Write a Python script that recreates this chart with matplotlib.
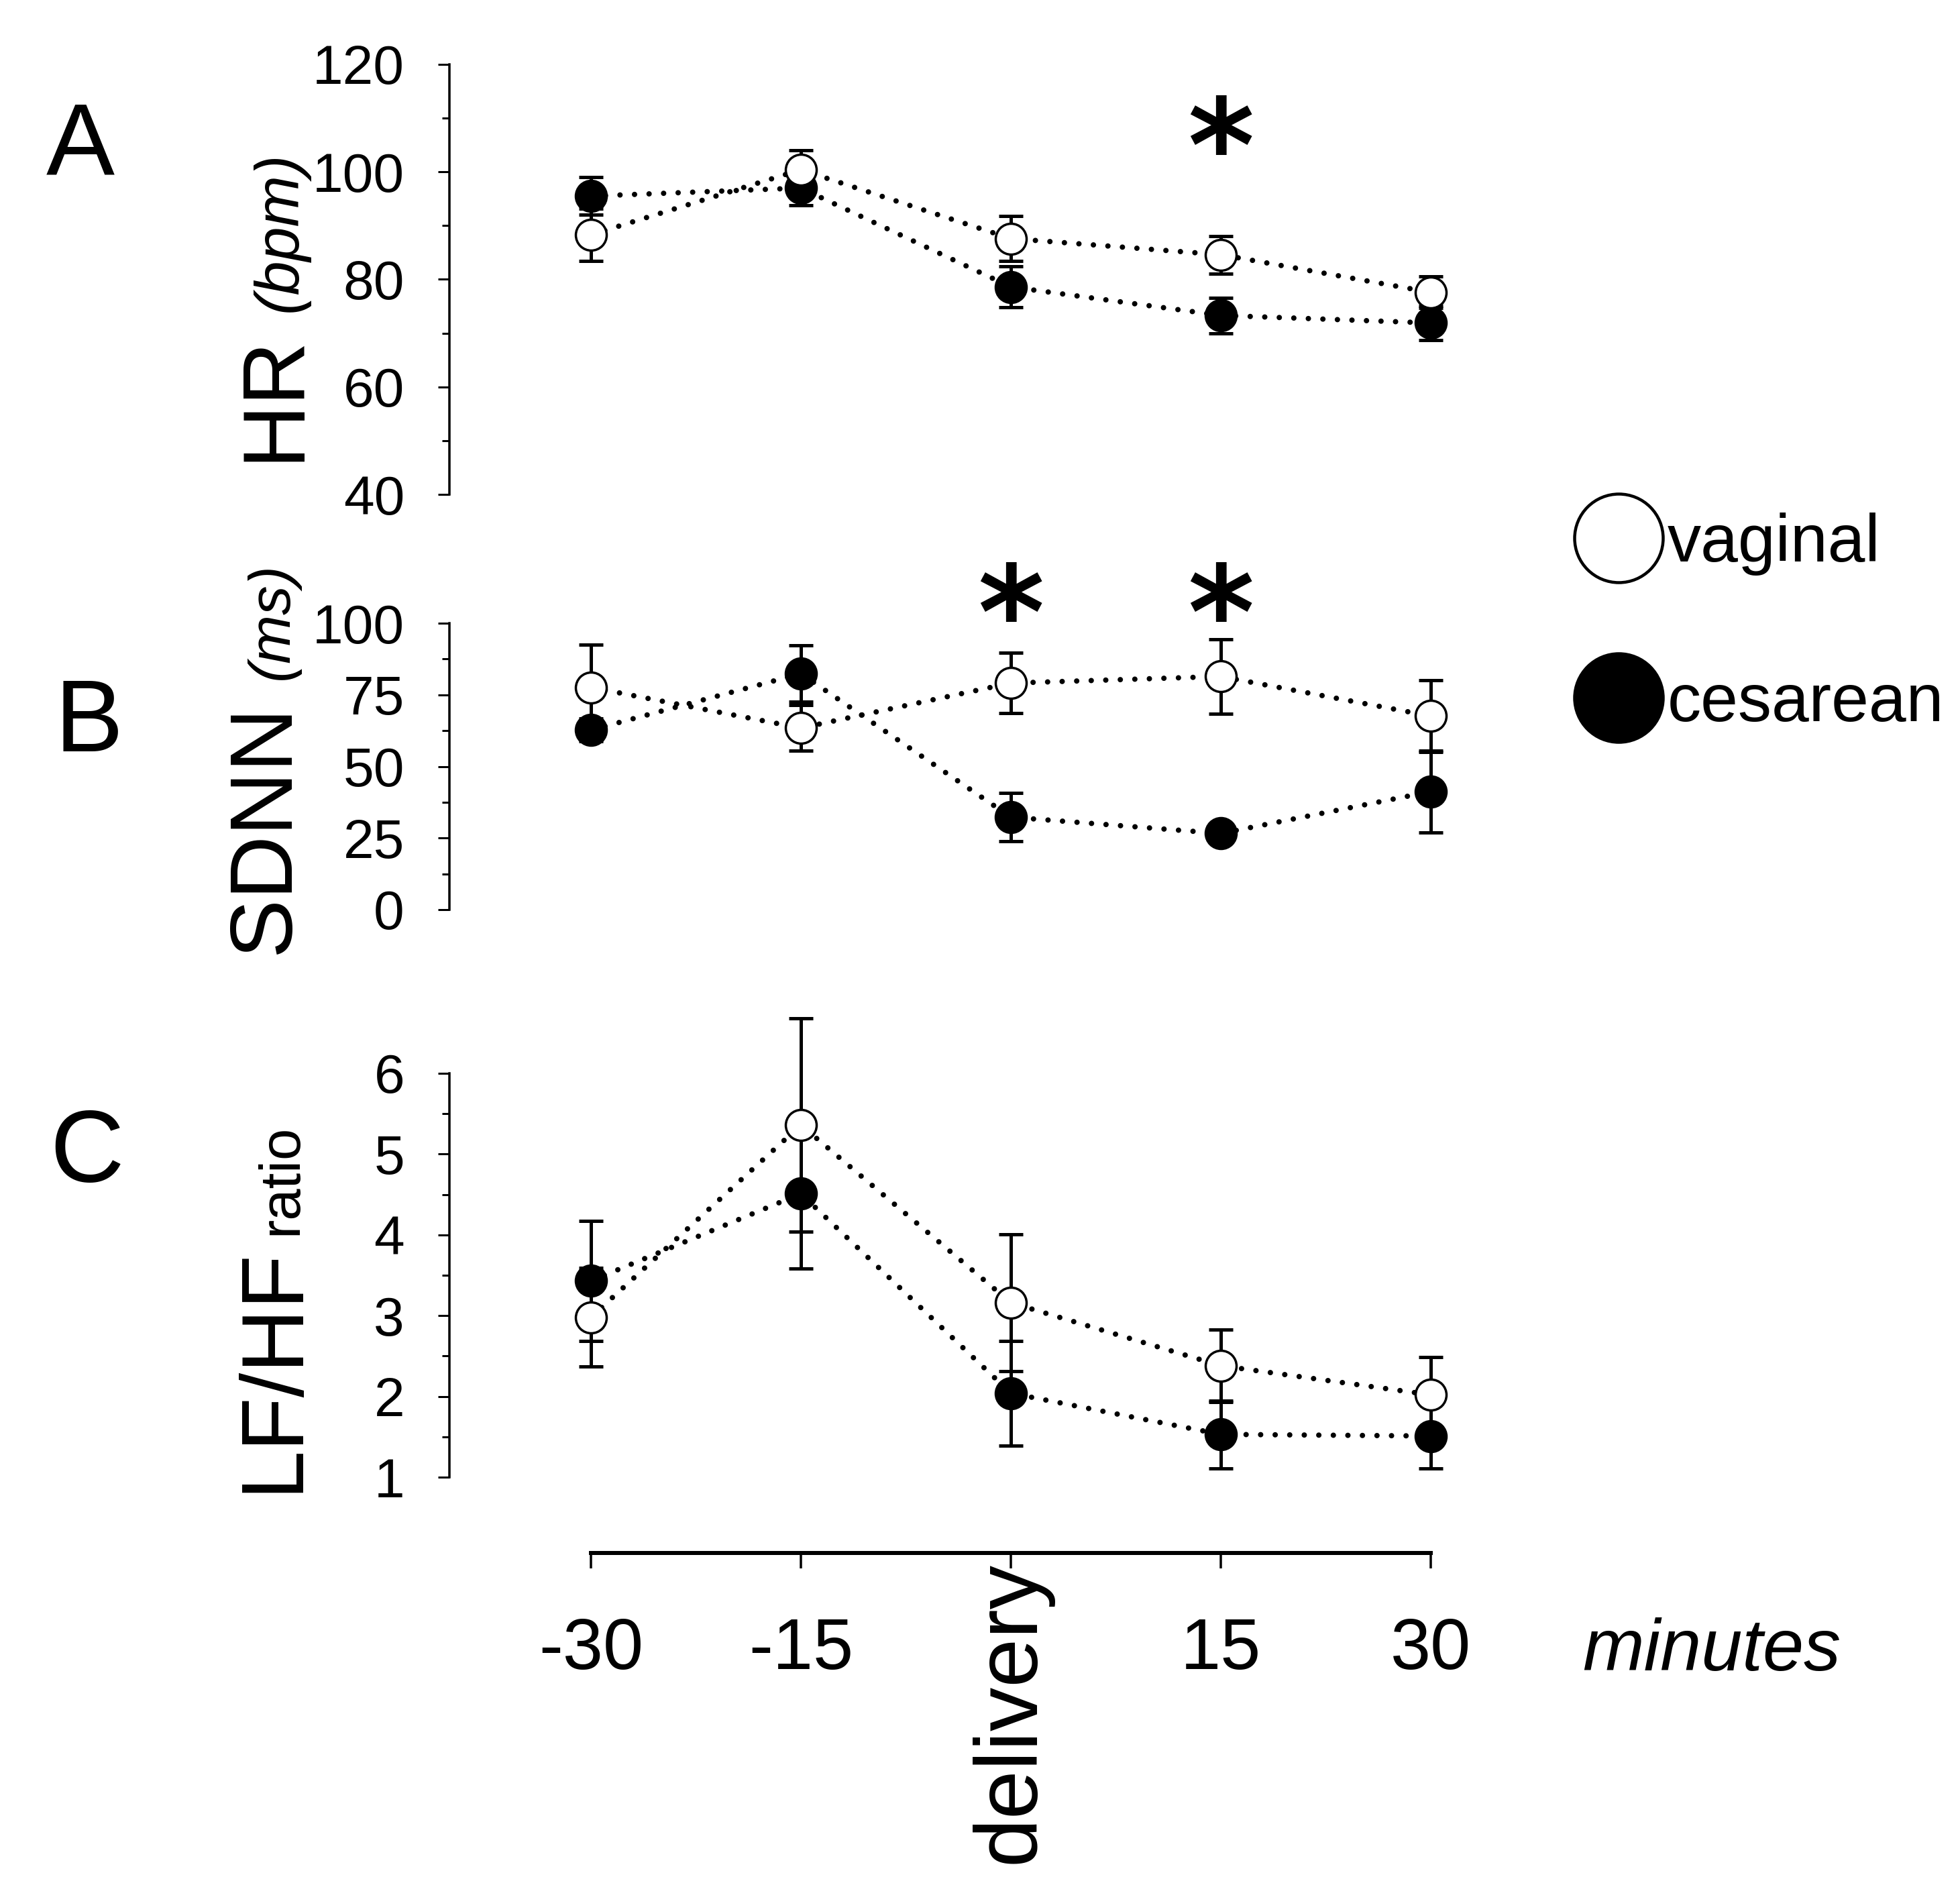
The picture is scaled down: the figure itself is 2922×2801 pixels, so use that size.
import matplotlib
matplotlib.use("Agg")
import matplotlib.pyplot as plt
from matplotlib import font_manager
from matplotlib.lines import Line2D
from matplotlib.ticker import MultipleLocator
from matplotlib.transforms import ScaledTranslation

W, H = 2922, 2801
DPI = 72

# time points (minutes around delivery)
minutes = [-30, -15, 0, 15, 30]
tick_labels = ['-30', '-15', 'delivery', '15', '30']

# panel A: heart rate (bpm), mean and error
hr_vaginal = [88.3, 100.4, 87.6, 84.6, 77.6]
hr_vaginal_err = [4.9, 3.6, 4.2, 3.5, 2.9]
hr_cesarean = [95.5, 97.0, 78.6, 73.3, 71.9]
hr_cesarean_err = [3.5, 3.2, 3.8, 3.3, 3.2]

# panel B: SDNN (ms)
sdnn_vaginal = [77.6, 63.4, 79.1, 81.4, 67.6]
sdnn_vaginal_err = [15.0, 8.0, 10.5, 13.0, 12.6]
sdnn_cesarean = [62.7, 82.4, 32.3, 26.6, 41.2]
sdnn_cesarean_err = [4.0, 9.8, 8.4, 2.5, 14.3]

# panel C: LF/HF ratio
lfhf_vaginal = [2.98, 5.36, 3.16, 2.38, 2.02]
lfhf_vaginal_err = [0.61, 1.32, 0.85, 0.45, 0.47]
lfhf_cesarean = [3.43, 4.51, 2.04, 1.53, 1.51]
lfhf_cesarean_err = [0.74, 0.93, 0.65, 0.42, 0.40]

# significant differences
stars_hr = [15]
stars_sdnn = [0, 15]


def font_ok(name):
    try:
        font_manager.findfont(font_manager.FontProperties(family=name),
                              fallback_to_default=False)
        return True
    except ValueError:
        return False


NARROW = 'Liberation Sans Narrow' if font_ok('Liberation Sans Narrow') else 'Liberation Sans'
NS = 1.0 if NARROW == 'Liberation Sans Narrow' else 0.85

plt.rcParams['font.family'] = ['Liberation Sans', 'DejaVu Sans']

fig = plt.figure(figsize=(W / DPI, H / DPI), dpi=DPI)

X0, X1 = 670, 2250
XLIM = (-40.11, 35.61)


def fx(px):
    return px / W


def fy(py):
    return 1 - py / H


def panel(top, bottom, ylim, major, minor):
    ax = fig.add_axes([fx(X0), fy(bottom), (X1 - X0) / W, (bottom - top) / H])
    ax.set_xlim(XLIM)
    ax.set_ylim(ylim)
    for s in ['top', 'right', 'bottom']:
        ax.spines[s].set_visible(False)
    ax.spines['left'].set_linewidth(3.5)
    ax.xaxis.set_visible(False)
    ax.yaxis.set_major_locator(MultipleLocator(major))
    ax.yaxis.set_minor_locator(MultipleLocator(minor))
    ax.tick_params(axis='y', which='major', length=17, width=3, pad=50, labelsize=82)
    ax.tick_params(axis='y', which='minor', length=11, width=3)
    ax.patch.set_visible(False)
    return ax


def series(ax, y, err, face, z):
    eb = ax.errorbar(minutes, y, yerr=err, fmt='none', ecolor='black', elinewidth=5,
                     capsize=18, capthick=5, zorder=z)
    for art in eb.lines[1] + eb.lines[2]:
        art.set_clip_on(False)
    ax.plot(minutes, y, color='black', lw=8, linestyle=(0, (0.01, 2.7)),
            dash_capstyle='round', zorder=z + 0.1, clip_on=False)
    ax.plot(minutes, y, linestyle='none', marker='o', ms=46, mfc=face,
            mec='black', mew=3.5, zorder=z + 0.2, clip_on=False)


axA = panel(96, 737, (40, 120), 20, 10)
series(axA, hr_cesarean, hr_cesarean_err, 'black', 2)
series(axA, hr_vaginal, hr_vaginal_err, 'white', 3)

axB = panel(929, 1356, (0, 100), 25, 12.5)
series(axB, sdnn_cesarean, sdnn_cesarean_err, 'black', 2)
series(axB, sdnn_vaginal, sdnn_vaginal_err, 'white', 3)

axC = panel(1600, 2202, (1, 6), 1, 0.5)
series(axC, lfhf_cesarean, lfhf_cesarean_err, 'black', 2)
series(axC, lfhf_vaginal, lfhf_vaginal_err, 'white', 3)

star_kw = dict(ha='center', va='baseline', fontsize=190, fontweight='bold',
               family='DejaVu Sans')
for m in stars_hr:
    axA.text(m, 96.5, '*', **star_kw)
for m in stars_sdnn:
    axB.text(m, 88, '*', **star_kw)

# shared time axis
axX = fig.add_axes([fx(X0), fy(2315), (X1 - X0) / W, 0.01])
axX.set_xlim(XLIM)
for s in ['top', 'right', 'left']:
    axX.spines[s].set_visible(False)
axX.spines['bottom'].set_bounds(-30, 30)
axX.spines['bottom'].set_linewidth(6)
axX.yaxis.set_visible(False)
axX.patch.set_visible(False)
axX.set_xticks(minutes, tick_labels)
axX.tick_params(axis='x', length=23, width=3.5, pad=72, labelsize=108)
lab = axX.get_xticklabels()[2]
lab.set_rotation(90)
lab.set_fontfamily(NARROW)
lab.set_fontsize(154 * NS)
lab.set_va('top')
lab.set_ha('center')
lab.set_transform(axX.get_xaxis_transform()
                  + ScaledTranslation(0, -12 / 72, fig.dpi_scale_trans))

fig.text(fx(2359), fy(2490), 'minutes', fontsize=110, style='italic',
         ha='left', va='baseline')

# y labels
lab_kw = dict(rotation=90, rotation_mode='anchor', ha='left', va='baseline',
              family=NARROW)
fig.text(fx(444), fy(688), 'HR', fontsize=155 * NS, **lab_kw)
fig.text(fx(442), fy(465), '(bpm)', fontsize=108 * NS, style='italic', **lab_kw)
fig.text(fx(430), fy(1422), 'SDNN', fontsize=155 * NS, **lab_kw)
fig.text(fx(429), fy(1013), '(ms)', fontsize=103 * NS, style='italic', **lab_kw)
fig.text(fx(442), fy(2225), 'LF/HF', fontsize=155 * NS, **lab_kw)
fig.text(fx(442), fy(1841), 'ratio', fontsize=100 * NS, **lab_kw)

# panel letters
for letter, bx, by in [('A', 69, 260), ('B', 81, 1120), ('C', 74, 1762)]:
    fig.text(fx(bx), fy(by), letter, fontsize=180 * NS, family=NARROW,
             ha='left', va='baseline')

handles = [Line2D([], [], ls='none', marker='o', ms=132, mfc='white', mec='black', mew=4.5),
           Line2D([], [], ls='none', marker='o', ms=132, mfc='black', mec='black', mew=4.5)]
fig.legend(handles, ['vaginal', 'cesarean'], loc='center left',
           bbox_to_anchor=(fx(2356), fy(930)), frameon=False,
           prop={'family': NARROW, 'size': 118 * NS},
           handlelength=135 / 118, handletextpad=0.15, labelspacing=1.43,
           borderpad=0, borderaxespad=0)

fig.savefig('out.png', dpi=DPI)
